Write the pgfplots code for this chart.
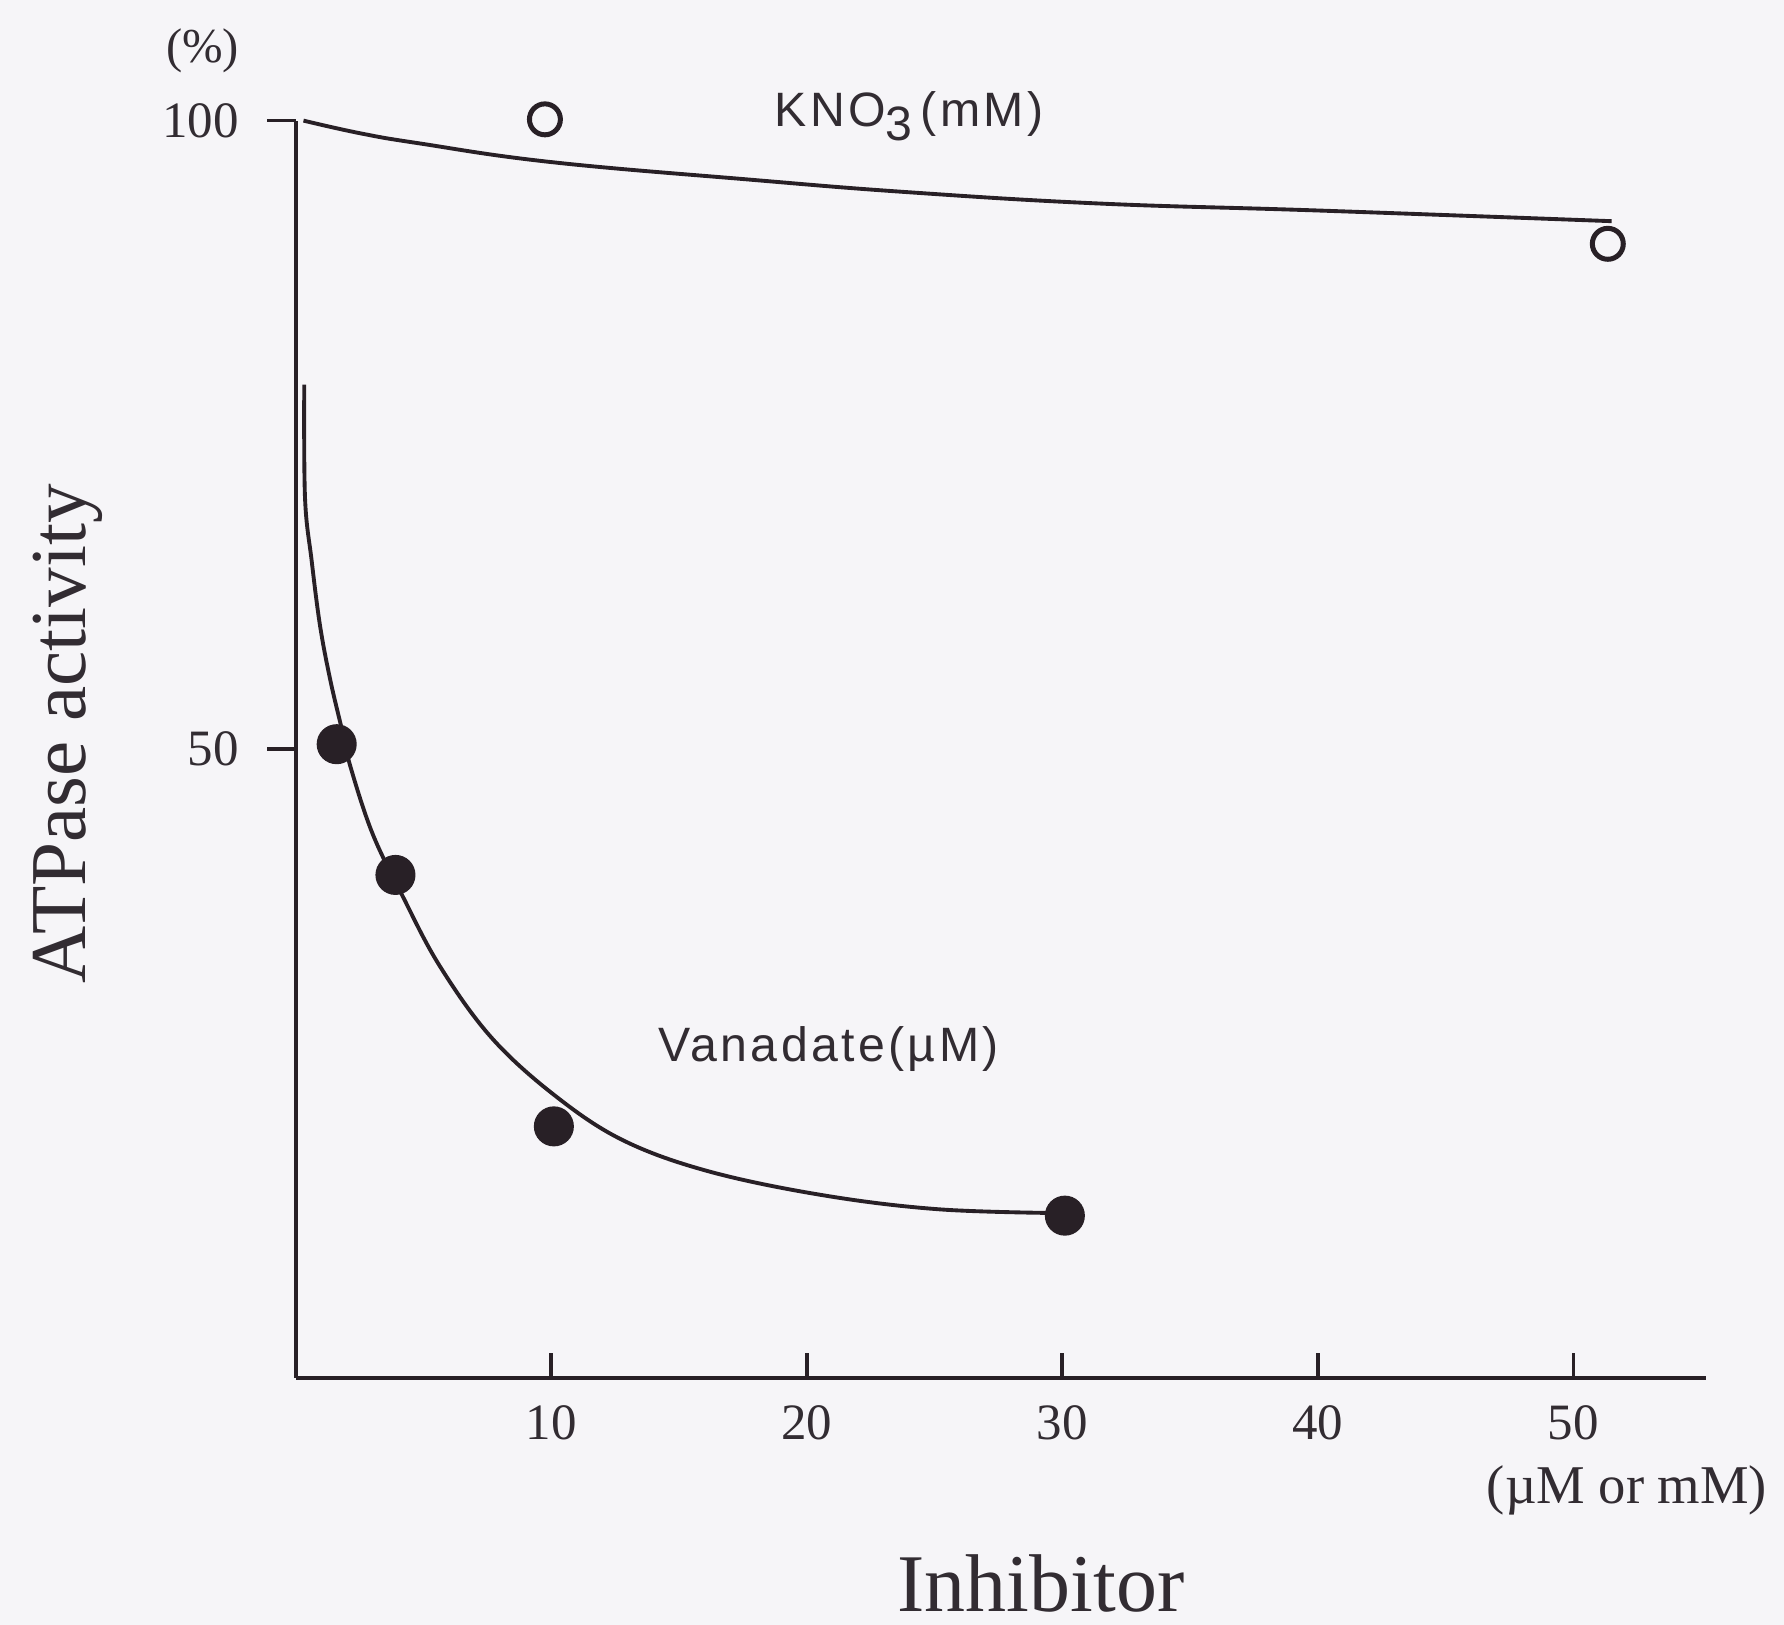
\documentclass[border=0pt]{standalone}
\usepackage{pgfplots}
\pgfplotsset{compat=1.18}
\usepackage{fontspec}
\setmainfont{Liberation Serif}
\newfontfamily\sansls[LetterSpace=7]{Liberation Sans}
\definecolor{bg}{RGB}{246,245,248}
\definecolor{ink}{RGB}{40,32,38}
\definecolor{txt}{RGB}{50,44,50}
\begin{document}
\begin{tikzpicture}
\fill[bg] (-65pt,-54.25pt) rectangle (327pt,302.75pt);
\begin{axis}[
  at={(0pt,0pt)}, anchor=south west,
  scale only axis, width=309.9pt, height=276.25pt,
  xmin=0, xmax=55.2, ymin=0, ymax=100,
  axis x line=bottom, axis y line=left,
  axis line style={-, line width=0.8pt, color=ink},
  xtick={10,20,30,40,50}, ytick={50,100},
  tick align=inside, major tick length=5.5pt,
  xtick style={line width=0.8pt, color=ink},
  ytick style={draw=none},
  /pgf/number format/assume math mode=true,
  ticklabel style={font=\fontsize{11.2}{13}\selectfont, text=txt},
  xticklabel style={yshift=-2.5pt},
  yticklabel style={anchor=east, xshift=-9pt},
  clip=false,
]
% fitted curves
\addplot[ink, line width=0.85pt, smooth, tension=0.7] coordinates {
 (0.3,100) (2.5,99.0) (4.8,98.2) (10,96.7) (17.8,95.3) (24,94.3) (31.5,93.4) (40,92.85) (51.5,92.0)};
\addplot[ink, line width=0.85pt, smooth, tension=0.6] coordinates {
 (0.33,79) (0.36,70) (0.62,65) (0.95,59.8) (1.35,55.5) (1.8,51.6) (2.14,48.6) (3.0,43.3) (4.16,38.4)
 (5.62,32.8) (7.64,27.1) (10.11,22.5) (12.8,18.9) (16.2,16.4) (20.7,14.5) (25.2,13.4) (30,13.1)};
% data points
\addplot[only marks, mark=*, mark size=4.2pt, mark options={fill=ink, draw=ink}] coordinates {
 (1.6,50.4) (3.9,40.0) (10.1,20.0) (30.1,12.9)};
\addplot[only marks, mark=o, mark size=3.4pt, mark options={draw=ink, line width=1.1pt, fill=none}] coordinates {
 (9.75,100.1) (51.35,90.2)};
% outward y ticks
\draw[ink, line width=0.8pt] (axis cs:0,50) -- ++(-6.25pt,0pt);
\draw[ink, line width=0.8pt] (axis cs:0,100) -- ++(-6.25pt,0pt);
\end{axis}
\node[text=txt, font=\fontsize{10.7}{12}\selectfont] at (-20.5pt,291.5pt) {(\%)};
\node[text=txt, font=\fontsize{12}{14}\selectfont] at (292.5pt,-24.75pt) {(µM or mM)};
\node[text=txt, font=\fontsize{18}{20}\selectfont] at (163.75pt,-45.25pt) {Inhibitor};
\node[text=txt, font=\fontsize{17.4}{20}\selectfont, rotate=90] at (-50pt,141.5pt) {ATPase activity};
\node[text=txt, anchor=west, inner sep=0pt, font=\fontsize{10.6}{12}\sansls] at (105pt,277.25pt) {KNO\raisebox{-3.2pt}{3}\,(mM)};
\node[text=txt, anchor=west, inner sep=0pt, font=\fontsize{10.6}{12}\sansls] at (79.5pt,72.25pt) {Vanadate(µM)};
\pgfresetboundingbox
\useasboundingbox (-65pt,-54.25pt) rectangle (327pt,302.75pt);
\end{tikzpicture}
\end{document}
